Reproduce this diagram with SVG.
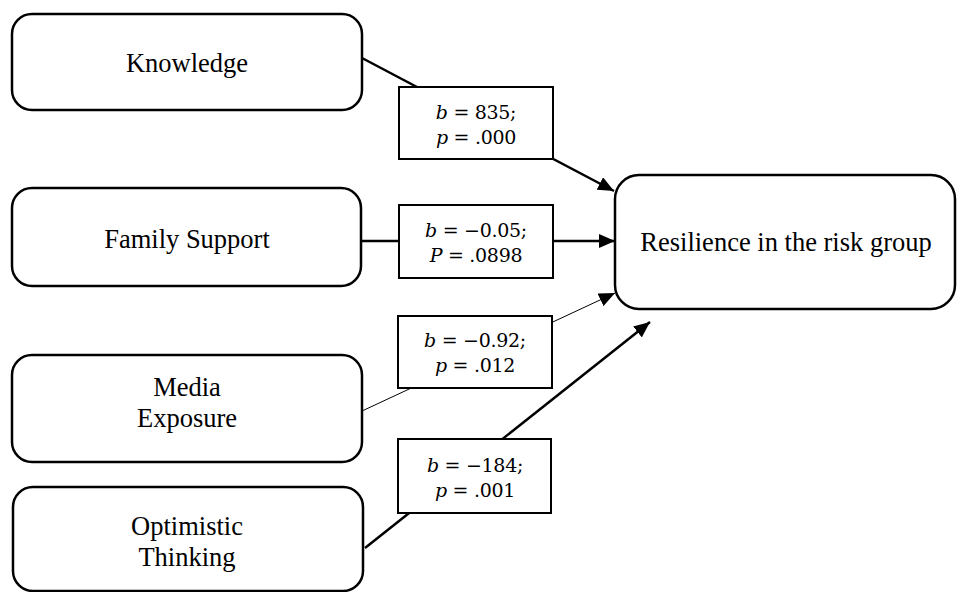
<svg xmlns="http://www.w3.org/2000/svg" width="957" height="592" viewBox="0 0 957 592">
<style>
.node{fill:#fff;stroke:#000;stroke-width:2.5}
.lbl{fill:#fff;stroke:#000;stroke-width:2}
.nt{font-family:"Liberation Serif","Times New Roman",serif;font-size:26.5px;fill:#000;text-anchor:middle}
.lt{font-family:"DejaVu Serif",serif;font-size:19px;letter-spacing:-0.3px;fill:#000;text-anchor:middle}
.v{font-style:italic}
.thick{stroke:#000;stroke-width:2.5;fill:none}
.thin{stroke:#000;stroke-width:1;fill:none}
</style>
<defs>
<marker id="ah" markerUnits="userSpaceOnUse" markerWidth="18" markerHeight="14" refX="16" refY="7" orient="auto">
<path d="M0,0 L16,7 L0,14 Z" fill="#000"/>
</marker>
</defs>
<rect width="957" height="592" fill="#fff"/>
<g id="connectors">
<line class="thick" x1="362" y1="58" x2="614" y2="191" marker-end="url(#ah)"/>
<line class="thick" x1="361" y1="241" x2="615" y2="241" marker-end="url(#ah)"/>
<line class="thin" x1="362" y1="411" x2="615" y2="293" marker-end="url(#ah)"/>
<line class="thick" x1="365" y1="548" x2="650" y2="322" marker-end="url(#ah)"/>
</g>
<g id="knowledge">
<rect class="node" x="12" y="14" width="350" height="96" rx="20"/>
<text class="nt" x="187" y="72">Knowledge</text>
</g>
<g id="family-support">
<rect class="node" x="12" y="188" width="349" height="98" rx="20"/>
<text class="nt" x="187" y="248">Family Support</text>
</g>
<g id="media-exposure">
<rect class="node" x="12" y="355" width="350" height="107" rx="20"/>
<text class="nt" x="187" y="396">Media</text>
<text class="nt" x="187" y="427">Exposure</text>
</g>
<g id="optimistic-thinking">
<rect class="node" x="13" y="487" width="350" height="104" rx="20"/>
<text class="nt" x="187" y="535">Optimistic</text>
<text class="nt" x="187" y="566">Thinking</text>
</g>
<g id="resilience">
<rect class="node" x="615" y="175" width="340" height="134" rx="24"/>
<text class="nt" x="786" y="251">Resilience in the risk group</text>
</g>
<g id="label-knowledge">
<rect class="lbl" x="399" y="87" width="154" height="72"/>
<text class="lt" x="476" y="119"><tspan class="v">b</tspan> = 835;</text>
<text class="lt" x="476" y="144"><tspan class="v">p</tspan> = .000</text>
</g>
<g id="label-family">
<rect class="lbl" x="399" y="205" width="154" height="73"/>
<text class="lt" x="476" y="237"><tspan class="v">b</tspan> = −0.05;</text>
<text class="lt" x="476" y="262"><tspan class="v">P</tspan> = .0898</text>
</g>
<g id="label-media">
<rect class="lbl" x="398" y="316" width="154" height="72"/>
<text class="lt" x="475" y="347"><tspan class="v">b</tspan> = −0.92;</text>
<text class="lt" x="475" y="372"><tspan class="v">p</tspan> = .012</text>
</g>
<g id="label-optimistic">
<rect class="lbl" x="398" y="439" width="153" height="74"/>
<text class="lt" x="475" y="472"><tspan class="v">b</tspan> = −184;</text>
<text class="lt" x="475" y="497"><tspan class="v">p</tspan> = .001</text>
</g>
</svg>
